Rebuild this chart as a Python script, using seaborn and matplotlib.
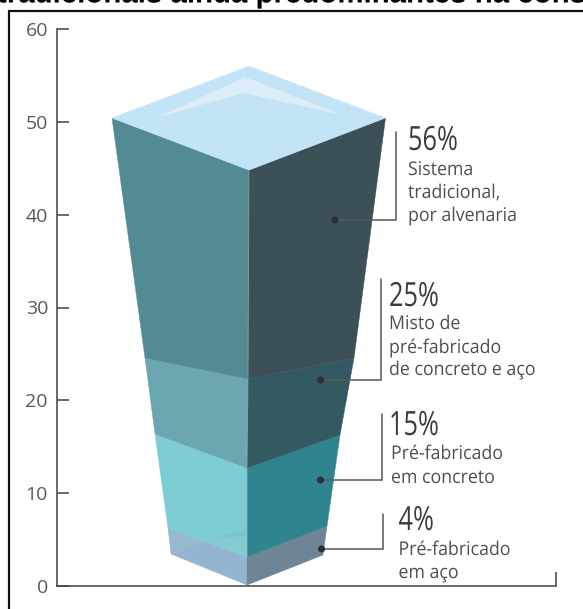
import matplotlib
matplotlib.use("Agg")
import matplotlib.pyplot as plt
from matplotlib.lines import Line2D
from matplotlib.patheffects import AbstractPathEffect
from matplotlib.transforms import Affine2D
import pandas as pd
import seaborn as sns

# Construction systems, bottom to top
systems = ["Pré-fabricado em aço", "Pré-fabricado em concreto",
           "Misto de pré-fabricado de concreto e aço", "Sistema tradicional, por alvenaria"]
shares = ["4%", "15%", "25%", "56%"]
left_faces = ["#93b5d0", "#7ecdd5", "#6ba6b1", "#528b94"]
right_faces = ["#6f8596", "#2f848f", "#345a61", "#3c5058"]

# Band boundaries of the tapered block: level and horizontal position on each edge
left_edge_x = [114, 111, 98, 88, 55]
left_edge_y = [3.45, 6.25, 16.37, 24.56, 50.41]
front_edge_x = [190, 190, 190, 191, 192]
front_edge_y = [0.1, 3.12, 12.71, 22.3, 44.8]
right_edge_x = [266, 270, 283, 297, 328.5]
right_edge_y = [3.34, 6.46, 16.27, 24.56, 50.41]
apex_x, apex_y = 192, 56

# Callouts: share, description lines and leader geometry
callouts = pd.DataFrame({
    "share": ["56%", "25%", "15%", "4%"],
    "dot_x": [278, 263.5, 263.5, 264.5],
    "dot_y": [39.43, 22.19, 11.42, 3.99],
    "bar_x": [339, 324, 325, 326],
    "bar_top": [48.9, 33.07, 18.53, 7.76],
})
callout_text = [
    (351, 46.97, 351, [("Sistema", 44.27), ("tradicional,", 41.8), ("por alvenaria", 39.32)]),
    (332, 30.16, 332, [("Misto de", 27.68), ("pré-fabricado", 25.1), ("de concreto e aço", 22.73)]),
    (332, 16.27, 334, [("Pré-fabricado", 13.68), ("em concreto", 11.1)]),
    (341.5, 6.03, 341.5, [("Pré-fabricado", 3.34), ("em aço", 0.86)]),
]


class Condensed(AbstractPathEffect):
    """Narrows a text horizontally around its own origin."""

    def __init__(self, factor):
        super().__init__()
        self.factor = factor

    def draw_path(self, renderer, gc, tpath, affine, rgbFace=None):
        x0 = affine.get_matrix()[0, 2]
        squeeze = Affine2D().translate(-x0, 0).scale(self.factor, 1).translate(x0, 0)
        renderer.draw_path(gc, tpath, affine + squeeze, rgbFace)


sns.set_theme(style="white")
W, H = 583, 609
fig = plt.figure(figsize=(W / 100, H / 100), dpi=100, facecolor="white")
ax = fig.add_axes([57 / W, 1 - 586 / H, 499 / W, 557 / H])
ax.set_xlim(0, 499)
ax.set_ylim(0, 60)
ax.set_facecolor("none")

body = "Open Sans"
ink = "#3f4244"

# Side faces, band by band
for i in range(4):
    ax.fill([left_edge_x[i], front_edge_x[i], front_edge_x[i + 1], left_edge_x[i + 1]],
            [left_edge_y[i], front_edge_y[i], front_edge_y[i + 1], left_edge_y[i + 1]],
            color=left_faces[i], lw=0.3, zorder=2)
    ax.fill([front_edge_x[i], right_edge_x[i], right_edge_x[i + 1], front_edge_x[i + 1]],
            [front_edge_y[i], right_edge_y[i], right_edge_y[i + 1], front_edge_y[i + 1]],
            color=right_faces[i], lw=0.3, zorder=2)

# Faint trace of the far edge seen through the lower bands
ax.fill([114, 190, 190, 111], [3.45, 6.25, 3.12, 6.25], color="#a6c6cc", alpha=0.22, lw=0, zorder=3)
ax.fill([155, 190, 270], [5.0, 6.25, 6.46], color="#3a8e98", alpha=0.12, lw=0, zorder=3)

# Top face with its light reflection
ax.fill([left_edge_x[-1], apex_x, right_edge_x[-1], front_edge_x[-1]],
        [left_edge_y[-1], apex_y, right_edge_y[-1], front_edge_y[-1]],
        color="#c3e3f7", lw=0.3, zorder=3)
ax.fill([101, 188, 285, 186.5], [50.5, 54.83, 50.74, 53.1], color="#dcedf8", lw=0, zorder=4)

# Light ridge between the two side faces
ax.plot(front_edge_x[1:], front_edge_y[1:], color="#ffffff", alpha=0.35, lw=0.6, zorder=4)

# Axes
sns.despine(ax=ax, top=True, right=True)
for side in ("left", "bottom"):
    ax.spines[side].set_color(ink)
    ax.spines[side].set_linewidth(1.1)
ax.set_xticks([499])
ax.set_xticklabels([])
ax.set_yticks(range(0, 61, 10))
ax.tick_params(axis="x", direction="in", length=10, width=1.1, color=ink, bottom=True)
ax.tick_params(axis="y", direction="in", length=8.5, width=1.1, color=ink, left=True, pad=6.5)
for lab in ax.get_yticklabels():
    lab.set_fontfamily("Open Sans")
    lab.set_fontsize(14)
    lab.set_color("#58595b")

# Leaders and dots
for row in callouts.itertuples():
    ax.plot([row.dot_x, row.bar_x, row.bar_x], [row.dot_y, row.dot_y, row.bar_top],
            color="#55585a", lw=1.1, zorder=5, solid_joinstyle="miter")
sns.scatterplot(data=callouts, x="dot_x", y="dot_y", ax=ax, s=26, color="#2d3033",
                edgecolor="none", zorder=6, legend=False)
ax.set_xlabel("")
ax.set_ylabel("")

# Callout text
for row, (hx, hy, tx, lines) in zip(callouts.itertuples(), callout_text):
    share = ax.text(hx, hy, row.share, family=body, fontsize=24, color="#3a3c3e",
                    va="baseline", zorder=7)
    share.set_path_effects([Condensed(0.76)])
    for line, y in lines:
        label = ax.text(tx, y, line, family=body, fontsize=13.6, color="#4d4f51",
                        va="baseline", zorder=7)
        label.set_path_effects([Condensed(0.94)])

# Heading running off the top edge and the panel frame
heading = fig.text(-3 / W, 1 - 2.5 / H, "tradicionais ainda predominantes na construção",
                   family="Liberation Sans", fontweight="bold", fontsize=21.2, color="black",
                   va="baseline")
heading.set_path_effects([Condensed(1.0)])
fig.add_artist(Line2D([8.5 / W, 8.5 / W, 1], [0, 1 - 10.5 / H, 1 - 10.5 / H], color="#111111", lw=1.6,
                      solid_joinstyle="miter"))

fig.savefig("out.png", dpi=100)
